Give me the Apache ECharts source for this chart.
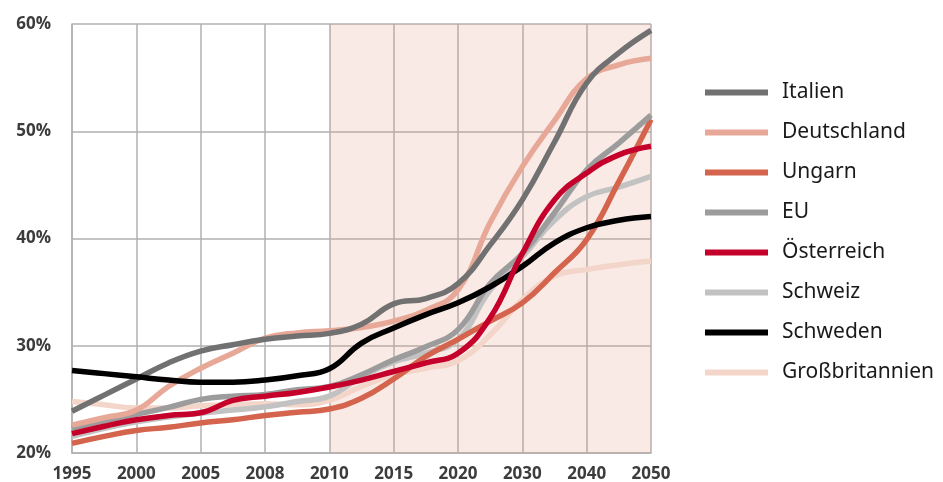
<!DOCTYPE html>
<html lang="de">
<head>
    <meta charset="UTF-8" />
    <script src="https://cdn.jsdelivr.net/npm/echarts@6/dist/echarts.min.js"></script>
    <style>
        html, body { margin: 0; padding: 0; background: #fff; }
        #chart { width: 943px; height: 482px; }
    </style>
    <title>Anteil</title>
</head>
<body>
    <div id="chart"></div>
    <script>
        // Jahre (gleich verteilt auf der x-Achse)
        const years = ['1995', '2000', '2005', '2008', '2010', '2015', '2020', '2030', '2040', '2050']
        // Stützstellen: Jahresposition und halbe Schritte dazwischen
        const xPos = [0, 0.5, 1, 1.5, 2, 2.5, 3, 3.5, 4, 4.5, 5, 5.5, 6, 6.5, 7, 7.5, 8, 8.5, 9]

        const italien = [23.9, 25.4, 26.9, 28.4, 29.5, 30.1, 30.6, 30.9, 31.15, 32.0, 33.9, 34.4, 35.8, 39.4, 43.6, 49.0, 54.5, 57.3, 59.4]
        const deutschland = [22.6, 23.3, 24.0, 26.2, 27.9, 29.3, 30.7, 31.2, 31.4, 31.7, 32.3, 33.3, 35.2, 41.5, 46.7, 51.0, 54.9, 56.2, 56.8]
        const ungarn = [20.9, 21.55, 22.1, 22.4, 22.8, 23.1, 23.5, 23.8, 24.1, 25.1, 26.9, 29.0, 30.6, 32.3, 34.0, 36.8, 39.9, 45.3, 51.1]
        const eu = [22.3, 23.0, 23.6, 24.25, 25.0, 25.3, 25.45, 25.9, 26.2, 27.3, 28.7, 29.9, 31.5, 35.8, 38.6, 42.4, 46.4, 48.9, 51.5]
        const oesterreich = [21.8, 22.5, 23.1, 23.5, 23.75, 24.9, 25.3, 25.65, 26.15, 26.8, 27.6, 28.4, 29.3, 32.6, 38.6, 43.6, 46.1, 47.8, 48.6]
        const schweiz = [21.55, 22.3, 22.9, 23.35, 23.7, 24.0, 24.3, 24.8, 25.3, 27.1, 28.5, 29.3, 30.6, 35.2, 38.3, 41.7, 43.9, 44.8, 45.8]
        const schweden = [27.7, 27.4, 27.1, 26.8, 26.6, 26.6, 26.8, 27.2, 27.85, 30.25, 31.65, 32.9, 34.0, 35.5, 37.4, 39.6, 41.0, 41.7, 42.05]
        const grossbritannien = [24.8, 24.5, 24.2, 24.2, 24.4, 24.5, 24.6, 24.5, 24.9, 26.2, 27.3, 27.9, 28.6, 31.0, 34.3, 36.5, 37.1, 37.55, 37.9]

        const legendOrder = ['Italien', 'Deutschland', 'Ungarn', 'EU', 'Österreich', 'Schweiz', 'Schweden', 'Großbritannien']

        function pairs (vals) {
            return xPos.map((x, i) => [x, vals[i]])
        }

        function line (name, vals, color) {
            return {
                name: name,
                type: 'line',
                data: pairs(vals),
                smooth: 0.45,
                showSymbol: false,
                symbol: 'none',
                lineStyle: { width: 5.5, color: color },
                itemStyle: { color: color },
                emphasis: { disabled: true }
            }
        }

        // Zeichenreihenfolge: hellere Linien zuerst
        const series = [
            line('Großbritannien', grossbritannien, '#f3d5c9'),
            line('Schweiz', schweiz, '#c2c2c2'),
            line('Ungarn', ungarn, '#d4644e'),
            line('EU', eu, '#9c9c9c'),
            line('Deutschland', deutschland, '#e8a898'),
            line('Italien', italien, '#717171'),
            line('Schweden', schweden, '#000000'),
            line('Österreich', oesterreich, '#c4002b')
        ]
        // Prognosezeitraum schattiert
        series[0].markArea = {
            silent: true,
            itemStyle: { color: 'rgba(225, 150, 130, 0.2)' },
            data: [[{ xAxis: 4 }, { xAxis: 9 }]]
        }

        const chart = echarts.init(document.getElementById('chart'))
        chart.setOption({
            animation: false,
            grid: { left: 72, right: 292, top: 24, bottom: 29, outerBoundsMode: 'none' },
            legend: {
                data: legendOrder,
                orient: 'vertical',
                left: 700,
                top: 77,
                icon: 'rect',
                itemWidth: 63,
                itemHeight: 6,
                itemGap: 19,
                textStyle: {
                    fontFamily: 'Noto Sans',
                    fontSize: 21,
                    lineHeight: 21,
                    color: '#1a1a1a',
                    padding: [0, 0, 0, 9]
                }
            },
            xAxis: {
                type: 'value',
                min: 0,
                max: 9,
                interval: 1,
                axisLine: { show: true, lineStyle: { color: '#b0b0b0', width: 1.5 } },
                axisTick: { show: false },
                splitLine: { show: true, lineStyle: { color: '#b0b0b0', width: 1.5 } },
                axisLabel: {
                    margin: 13,
                    fontFamily: 'Open Sans',
                    fontWeight: 'bold',
                    fontSize: 17,
                    color: '#3c3c3c',
                    formatter: v => years[v]
                }
            },
            yAxis: {
                type: 'value',
                min: 20,
                max: 60,
                interval: 10,
                axisLine: { show: true, lineStyle: { color: '#b0b0b0', width: 1.5 } },
                axisTick: { show: false },
                splitLine: { show: true, lineStyle: { color: '#b0b0b0', width: 1.5 } },
                axisLabel: {
                    margin: 21,
                    fontFamily: 'Open Sans',
                    fontWeight: 'bold',
                    fontSize: 17,
                    color: '#3c3c3c',
                    formatter: '{value}%'
                }
            },
            series: series
        })
    </script>
</body>
</html>
